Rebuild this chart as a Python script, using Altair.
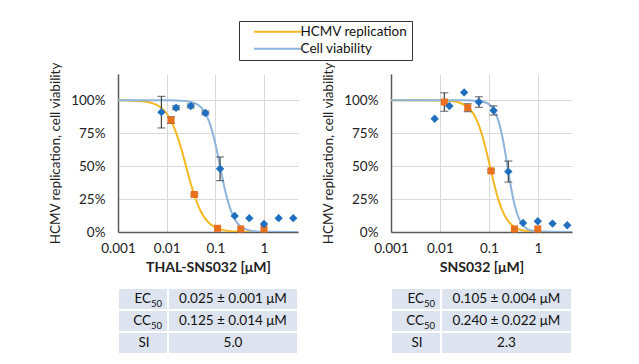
import altair as alt
import pandas as pd

FONT = "Lato"

# ---- measured doses (µM) ----
hcmv_dose = [0.0123, 0.037, 0.111, 0.333, 1.0]
viab_dose = [0.0078, 0.0156, 0.03125, 0.0625, 0.125, 0.25, 0.5, 1.0, 2.0, 4.0]

# ---- THAL-SNS032 panel ----
thal_hcmv = [0.85, 0.285, 0.028, 0.023, 0.023]
thal_hcmv_err = [0.025, 0.01, 0.0, 0.0, 0.0]
thal_viab = [0.91, 0.944, 0.957, 0.904, 0.48, 0.122, 0.105, 0.061, 0.105, 0.105]
thal_viab_err = [0.12, 0.015, 0.015, 0.015, 0.09, 0.0, 0.0, 0.0, 0.0, 0.0]

thal_hcmv_fit_x = [0.001, 0.00316, 0.00562, 0.00794, 0.01, 0.0126, 0.0158, 0.02, 0.0251, 0.0316,
                   0.0398, 0.0501, 0.0631, 0.0794, 0.1, 0.158, 0.316, 1.0, 5.0]
thal_hcmv_fit_y = [1.0, 0.993, 0.973, 0.94, 0.9, 0.838, 0.749, 0.632, 0.497, 0.363,
                   0.247, 0.158, 0.098, 0.059, 0.035, 0.012, 0.002, 0.0, 0.0]
thal_viab_fit_x = [0.001, 0.01, 0.0251, 0.0398, 0.0501, 0.0631, 0.0794, 0.1, 0.126, 0.158,
                   0.2, 0.251, 0.316, 0.398, 0.631, 1.0, 5.0]
thal_viab_fit_y = [1.0, 1.0, 0.994, 0.975, 0.949, 0.899, 0.81, 0.671, 0.495, 0.319,
                   0.183, 0.097, 0.049, 0.024, 0.006, 0.001, 0.0]

# ---- SNS032 panel ----
sns_hcmv = [0.987, 0.944, 0.464, 0.023, 0.023]
sns_hcmv_err = [0.07, 0.03, 0.01, 0.0, 0.0]
sns_viab = [0.86, 0.957, 1.06, 0.987, 0.923, 0.459, 0.069, 0.082, 0.064, 0.051]
sns_viab_err = [0.0, 0.0, 0.0, 0.04, 0.035, 0.08, 0.0, 0.0, 0.0, 0.0]

sns_hcmv_fit_x = [0.001, 0.01, 0.02, 0.0316, 0.0398, 0.0501, 0.0631, 0.0794, 0.1, 0.126,
                  0.158, 0.2, 0.251, 0.316, 0.501, 1.0, 5.0]
sns_hcmv_fit_y = [1.0, 0.999, 0.991, 0.966, 0.938, 0.888, 0.806, 0.686, 0.534, 0.376,
                  0.24, 0.142, 0.08, 0.044, 0.012, 0.002, 0.0]
sns_viab_fit_x = [0.001, 0.0316, 0.0631, 0.1, 0.126, 0.158, 0.2, 0.251, 0.316, 0.398,
                  0.501, 0.631, 0.794, 1.0, 5.0]
sns_viab_fit_y = [1.0, 1.0, 0.995, 0.971, 0.929, 0.84, 0.676, 0.454, 0.249, 0.116,
                  0.05, 0.02, 0.008, 0.003, 0.0]

# ---- tables ----
table_labels = ["EC", "CC", "SI"]
table_subs = ["50", "50", ""]
thal_table = ["0.025 ± 0.001 μM", "0.125 ± 0.014 μM", "5.0"]
sns_table = ["0.105 ± 0.004 μM", "0.240 ± 0.022 μM", "2.3"]

series_names = ["HCMV replication", "Cell viability"]
line_colors = ["#f5b822", "#8db4da"]
square_color = "#e8701f"
diamond_color = "#1f6fc0"
err_color = "#404040"
Y_TITLE = "HCMV replication, cell viability"


def panel(xtitle, hv, he, vv, ve, hfx, hfy, vfx, vfy, w):
    pts = pd.DataFrame({
        "dose": hcmv_dose + viab_dose,
        "value": hv + vv,
        "err": he + ve,
        "kind": ["sq"] * len(hv) + ["dm"] * len(vv),
    })
    fit = pd.DataFrame({
        "dose": hfx + vfx,
        "value": hfy + vfy,
        "series": [series_names[0]] * len(hfx) + [series_names[1]] * len(vfx),
    })
    xs = alt.Scale(type="log", domain=[0.001, 5], nice=False)
    ys = alt.Scale(domain=[0, 1.2], nice=False)
    xax = alt.Axis(values=[0.001, 0.01, 0.1, 1], format="~g", title=xtitle, ticks=False,
                   labelFlush=False,
                   grid=True, gridColor="#d9d9d9", domainColor="#595959", domainWidth=1.5,
                   labelFont=FONT, labelFontSize=13.5, labelColor="#222", labelPadding=9,
                   titleFont=FONT, titleFontSize=14, titleFontWeight="bold", titleColor="#222",
                   titlePadding=6)
    yax = alt.Axis(values=[0, 0.25, 0.5, 0.75, 1.0], format=".0%", title=Y_TITLE, ticks=False,
                   labelFlush=False,
                   grid=True, gridColor="#d9d9d9", domainColor="#595959", domainWidth=1.5,
                   labelFont=FONT, labelFontSize=13.5, labelColor="#222", labelPadding=13,
                   titleFont=FONT, titleFontSize=13.5, titleFontWeight="normal", titleColor="#222",
                   titlePadding=8)
    X = alt.X("dose:Q", scale=xs, axis=xax)

    lines = alt.Chart(fit).mark_line(interpolate="monotone", strokeWidth=2, clip=True).encode(
        x=X,
        y=alt.Y("value:Q", scale=ys, axis=yax),
        color=alt.Color("series:N", scale=alt.Scale(domain=series_names, range=line_colors),
                        legend=alt.Legend(title=None, orient="none", legendX=121, legendY=-53,
                                          direction="vertical", symbolType="M-5,0H5",
                                          symbolSize=90, symbolStrokeWidth=2,
                                          symbolFillColor="transparent",
                                          labelFont=FONT, labelFontSize=13.5, labelColor="#111",
                                          strokeColor="#333333", padding=4, symbolOffset=28,
                                          labelOffset=16, rowPadding=2)),
    )
    eb = alt.Chart(pts).transform_filter("datum.err > 0").transform_calculate(
        lo="datum.value - datum.err", hi="datum.value + datum.err")
    rule = eb.mark_rule(color=err_color, strokeWidth=1.2).encode(
        x=X, y=alt.Y("lo:Q", scale=ys, axis=yax), y2="hi:Q")
    cap_lo = eb.mark_tick(color=err_color, size=8, thickness=1.2, orient="horizontal").encode(
        x=X, y=alt.Y("lo:Q", scale=ys, axis=yax))
    cap_hi = eb.mark_tick(color=err_color, size=8, thickness=1.2, orient="horizontal").encode(
        x=X, y=alt.Y("hi:Q", scale=ys, axis=yax))
    sq = alt.Chart(pts).transform_filter("datum.kind == 'sq'").mark_point(
        shape="square", filled=True, size=50, color=square_color, opacity=1).encode(
        x=X, y=alt.Y("value:Q", scale=ys, axis=yax))
    dm = alt.Chart(pts).transform_filter("datum.kind == 'dm'").mark_point(
        shape="diamond", filled=True, size=70, color=diamond_color, opacity=1).encode(
        x=X, y=alt.Y("value:Q", scale=ys, axis=yax))
    return alt.layer(lines, rule, cap_lo, cap_hi, sq, dm).properties(width=w, height=158)


def table(values, w):
    df = pd.DataFrame({"row": [0, 1, 2], "label": table_labels, "sub": table_subs, "value": values})
    Y = alt.Y("row:O", axis=None, scale=alt.Scale(paddingInner=0, paddingOuter=0))
    base = alt.Chart(df).encode(y=Y)
    lab_rect = base.mark_rect(fill="#dde4ef", stroke="white", strokeWidth=2).encode(
        x=alt.value(0), x2=alt.value(50))
    val_rect = base.mark_rect(fill="#dde4ef", stroke="white", strokeWidth=2).encode(
        x=alt.value(50), x2=alt.value(w))
    tstyle = dict(font=FONT, fontSize=13.5, color="#111")
    lab_main = base.transform_filter("datum.sub != ''").mark_text(align="right", **tstyle).encode(
        x=alt.value(33), text="label:N")
    lab_sub = base.transform_filter("datum.sub != ''").mark_text(
        align="left", font=FONT, fontSize=9.5, color="#111", dy=5).encode(
        x=alt.value(33), text="sub:N")
    lab_si = base.transform_filter("datum.sub == ''").mark_text(align="center", **tstyle).encode(
        x=alt.value(26), text="label:N")
    val_text = base.mark_text(align="center", **tstyle).encode(
        x=alt.value((50 + w) / 2), text="value:N")
    return alt.layer(lab_rect, val_rect, lab_main, lab_sub, lab_si, val_text).properties(
        width=w, height=66)


left = panel("THAL-SNS032 [μM]", thal_hcmv, thal_hcmv_err, thal_viab, thal_viab_err,
             thal_hcmv_fit_x, thal_hcmv_fit_y, thal_viab_fit_x, thal_viab_fit_y, 180)
right = panel("SNS032 [μM]", sns_hcmv, sns_hcmv_err, sns_viab, sns_viab_err,
              sns_hcmv_fit_x, sns_hcmv_fit_y, sns_viab_fit_x, sns_viab_fit_y, 181)

chart = alt.concat(
    left, right, table(thal_table, 180), table(sns_table, 181),
    columns=2, spacing={"row": 56, "column": 93}, bounds="flush",
).properties(
    padding={"left": 40, "top": 12, "right": 5, "bottom": 5}
).configure_view(stroke=None)

chart.save("out.html", embed_options={"renderer": "svg", "actions": False})
